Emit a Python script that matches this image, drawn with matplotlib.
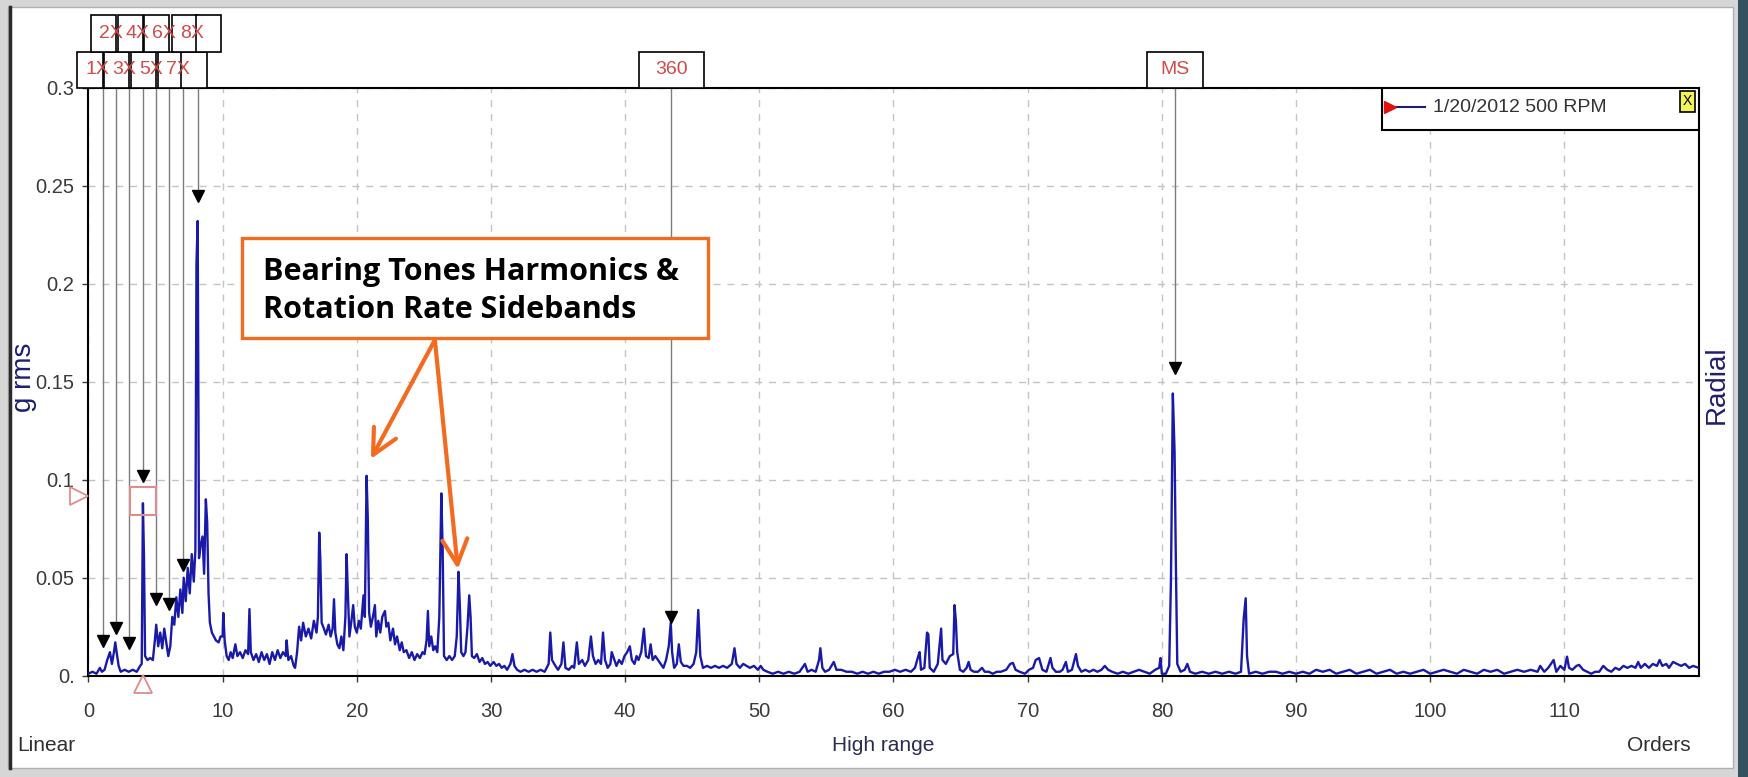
import matplotlib.pyplot as plt
import matplotlib.transforms as mtransforms
from matplotlib.patches import Rectangle
from matplotlib.lines import Line2D

plt.rcParams['font.family'] = ['Liberation Sans', 'DejaVu Sans']

# vibration spectrum, amplitude (g rms) against shaft orders
spec_orders = [
    0.0, 0.3, 0.6, 0.85, 1.0, 1.2, 1.4, 1.6, 1.75, 1.9, 2.0, 2.1, 2.25, 2.4, 2.7, 3.0, 3.3, 3.6, 3.85, 3.97,
    4.06, 4.14, 4.22, 4.4, 4.6, 4.8, 4.95, 5.05, 5.2, 5.35, 5.5, 5.65, 5.8, 5.95, 6.1, 6.25, 6.4, 6.55, 6.7, 6.85,
    7.0, 7.1, 7.25, 7.4, 7.55, 7.7, 7.85, 7.97, 8.05, 8.14, 8.24, 8.35, 8.5, 8.62, 8.75, 8.85, 8.95, 9.05, 9.2, 9.35,
    9.5, 9.7, 9.85, 10.0, 10.05, 10.15, 10.3, 10.45, 10.6, 10.75, 10.95, 11.1, 11.3, 11.5, 11.7, 11.9, 12.0, 12.1, 12.3, 12.5,
    12.7, 12.9, 13.1, 13.3, 13.5, 13.7, 13.9, 14.1, 14.3, 14.5, 14.7, 14.77, 14.9, 15.1, 15.3, 15.4, 15.55, 15.7, 15.85, 16.0,
    16.2, 16.4, 16.6, 16.8, 17.0, 17.1, 17.2, 17.28, 17.38, 17.55, 17.7, 17.9, 18.05, 18.2, 18.3, 18.4, 18.55, 18.7, 18.85, 19.0,
    19.15, 19.24, 19.32, 19.45, 19.6, 19.73, 19.85, 20.0, 20.15, 20.3, 20.5, 20.6, 20.73, 20.82, 20.92, 21.05, 21.2, 21.35, 21.45, 21.6,
    21.75, 21.9, 22.1, 22.2, 22.35, 22.5, 22.7, 22.85, 23.0, 23.2, 23.35, 23.5, 23.7, 23.9, 24.1, 24.3, 24.5, 24.7, 24.9, 25.05,
    25.2, 25.3, 25.4, 25.55, 25.7, 25.85, 26.0, 26.15, 26.3, 26.4, 26.5, 26.7, 26.9, 27.1, 27.3, 27.45, 27.58, 27.68, 27.78, 27.95,
    28.1, 28.25, 28.38, 28.48, 28.58, 28.75, 28.95, 29.15, 29.35, 29.55, 29.75, 29.95, 30.2, 30.4, 30.6, 30.8, 31.0, 31.2, 31.45, 31.6,
    31.75, 31.95, 32.2, 32.5, 32.8, 33.1, 33.4, 33.7, 34.0, 34.3, 34.42, 34.55, 34.8, 35.0, 35.25, 35.4, 35.55, 35.8, 36.05, 36.2,
    36.4, 36.55, 36.8, 37.0, 37.25, 37.45, 37.6, 37.8, 38.0, 38.2, 38.35, 38.5, 38.7, 38.9, 39.0, 39.15, 39.35, 39.55, 39.75, 39.95,
    40.15, 40.35, 40.5, 40.7, 40.85, 41.0, 41.2, 41.4, 41.55, 41.75, 41.9, 42.05, 42.25, 42.45, 42.65, 42.85, 43.05, 43.25, 43.4, 43.5,
    43.65, 43.85, 44.0, 44.15, 44.35, 44.6, 44.85, 45.1, 45.3, 45.45, 45.6, 45.8, 46.1, 46.4, 46.7, 47.0, 47.3, 47.6, 47.95, 48.15,
    48.3, 48.55, 48.8, 49.05, 49.3, 49.6, 49.9, 50.1, 50.3, 50.6, 51.0, 51.4, 51.8, 52.2, 52.6, 53.0, 53.4, 53.6, 53.9, 54.2,
    54.45, 54.55, 54.7, 54.9, 55.2, 55.55, 55.75, 56.1, 56.5, 56.9, 57.3, 57.7, 58.1, 58.5, 58.9, 59.3, 59.7, 60.1, 60.5, 60.9,
    61.3, 61.6, 61.85, 61.95, 62.05, 62.3, 62.5, 62.6, 62.7, 63.0, 63.3, 63.55, 63.65, 63.9, 64.2, 64.45, 64.55, 64.65, 64.75, 64.95,
    65.2, 65.45, 65.6, 65.75, 66.0, 66.3, 66.6, 66.8, 67.1, 67.4, 67.7, 68.0, 68.4, 68.7, 68.9, 69.1, 69.4, 69.8, 70.1, 70.4,
    70.6, 70.85, 71.1, 71.4, 71.7, 71.85, 72.1, 72.4, 72.6, 72.85, 73.0, 73.3, 73.6, 73.75, 74.0, 74.3, 74.6, 74.9, 75.2, 75.5,
    75.75, 76.0, 76.3, 76.7, 77.1, 77.5, 77.9, 78.3, 78.7, 79.1, 79.5, 79.8, 79.9, 80.0, 80.3, 80.55, 80.68, 80.82, 80.95, 81.05,
    81.15, 81.4, 81.7, 81.9, 82.1, 82.5, 83.0, 83.5, 84.0, 84.5, 85.0, 85.5, 85.9, 86.1, 86.25, 86.35, 86.5, 87.0, 87.5, 88.0,
    88.5, 89.0, 89.5, 90.0, 90.5, 91.0, 91.5, 92.0, 92.5, 93.0, 93.5, 94.0, 94.5, 95.0, 95.5, 96.0, 96.5, 97.0, 97.5, 98.0,
    98.5, 99.0, 99.5, 100.0, 100.5, 101.0, 101.5, 102.0, 102.5, 103.0, 103.5, 104.0, 104.5, 105.0, 105.5, 106.0, 106.5, 107.0, 107.5, 108.0,
    108.2, 108.5, 108.8, 109.2, 109.4, 109.7, 110.0, 110.2, 110.35, 110.6, 110.9, 111.1, 111.4, 111.7, 112.0, 112.3, 112.6, 112.9, 113.2, 113.5,
    113.8, 114.1, 114.4, 114.7, 115.0, 115.3, 115.5, 115.7, 116.0, 116.3, 116.6, 116.9, 117.1, 117.3, 117.6, 117.8, 118.1, 118.4, 118.7, 119.0,
    119.3, 119.6, 120.0,
]
spec_grms = [
    .001, .002, .001, .004, .002, .003, .008, .012, .006, .012, .017, .012, .005, .002, .003, .002, .003, .002, .005, .006,
    .088, .060, .010, .008, .009, .008, .018, .026, .015, .022, .014, .024, .017, .010, .015, .030, .026, .040, .030, .044,
    .032, .050, .038, .055, .042, .062, .048, .064, .210, .232, .060, .066, .071, .052, .090, .078, .042, .027, .022, .020,
    .018, .017, .020, .020, .032, .018, .010, .008, .012, .009, .016, .010, .012, .009, .013, .011, .034, .012, .008, .011,
    .007, .012, .008, .011, .006, .012, .008, .013, .009, .012, .010, .018, .008, .010, .005, .004, .012, .025, .018, .027,
    .020, .024, .019, .028, .022, .030, .073, .060, .027, .024, .021, .026, .020, .024, .039, .022, .016, .014, .020, .013,
    .030, .062, .045, .020, .028, .036, .025, .022, .028, .024, .041, .030, .102, .080, .032, .025, .030, .036, .020, .028,
    .022, .030, .033, .025, .027, .018, .024, .016, .020, .013, .017, .012, .013, .009, .012, .008, .011, .009, .012, .011,
    .018, .033, .015, .020, .013, .015, .012, .030, .093, .064, .010, .008, .010, .008, .010, .020, .053, .036, .012, .010,
    .012, .025, .041, .030, .010, .009, .011, .007, .009, .006, .007, .005, .007, .005, .006, .004, .005, .003, .006, .011,
    .005, .003, .002, .003, .002, .003, .002, .003, .002, .006, .022, .008, .005, .003, .006, .017, .004, .003, .005, .004,
    .017, .006, .008, .005, .008, .020, .010, .006, .008, .006, .022, .008, .004, .006, .012, .009, .005, .008, .006, .010,
    .012, .015, .008, .006, .010, .008, .012, .024, .010, .009, .016, .008, .010, .008, .006, .004, .008, .015, .027, .012,
    .004, .006, .016, .007, .005, .005, .004, .006, .012, .0335, .010, .004, .005, .004, .005, .004, .005, .004, .006, .014,
    .006, .004, .006, .005, .004, .005, .003, .005, .003, .002, .001, .002, .001, .002, .001, .002, .006, .002, .003, .002,
    .008, .014, .004, .002, .003, .007, .003, .003, .002, .002, .001, .002, .001, .002, .001, .002, .002, .003, .002, .003,
    .002, .004, .010, .012, .003, .004, .022, .021, .004, .002, .006, .024, .008, .006, .010, .011, .036, .028, .012, .003,
    .002, .004, .007, .003, .002, .002, .004, .002, .002, .001, .002, .002, .003, .006, .0065, .003, .002, .001, .003, .004,
    .008, .009, .003, .002, .009, .004, .002, .002, .003, .007, .002, .003, .011, .005, .002, .003, .002, .003, .002, .003,
    .005, .003, .002, .001, .002, .001, .002, .003, .002, .001, .003, .004, .009, .001, .001, .005, .049, .144, .114, .055,
    .006, .002, .003, .006, .002, .001, .002, .001, .002, .001, .002, .001, .002, .029, .0395, .010, .001, .002, .001, .002,
    .002, .001, .002, .001, .002, .001, .003, .002, .003, .001, .002, .003, .001, .002, .003, .001, .002, .003, .001, .002,
    .001, .002, .003, .001, .002, .003, .002, .001, .003, .002, .001, .003, .002, .003, .001, .002, .003, .002, .003, .002,
    .005, .002, .004, .008, .002, .005, .003, .0097, .004, .003, .005, .0055, .003, .002, .001, .002, .002, .005, .003, .002,
    .004, .003, .005, .004, .005, .004, .007, .004, .006, .004, .006, .005, .008, .005, .006, .004, .007, .006, .005, .006,
    .004, .005, .004,
]

# fault frequency cursors: label, order, marker height
odd_labels = ['1X', '3X', '5X', '7X']
odd_orders = [1.05, 3.03, 5.04, 7.05]
odd_marks = [0.0177, 0.0166, 0.039, 0.0564]
even_labels = ['2X', '4X', '6X', '8X']
even_orders = [2.05, 4.06, 6.02, 8.14]
even_marks = [0.0245, 0.102, 0.0365, 0.245]
tone_labels = ['360', 'MS']
tone_orders = [43.45, 81.0]
tone_marks = [0.030, 0.157]

x_ticks = [0, 10, 20, 30, 40, 50, 60, 70, 80, 90, 100, 110]
y_ticks = [0, 0.05, 0.1, 0.15, 0.2, 0.25, 0.3]
y_ticklabels = ['0.', '0.05', '0.1', '0.15', '0.2', '0.25', '0.3']

note_text = 'Bearing Tones Harmonics &\nRotation Rate Sidebands'
legend_text = '1/20/2012 500 RPM'

ORANGE = '#f26b21'
PINK = '#e08c8c'
NAVY = '#1e1e6e'

fig = plt.figure(figsize=(17.48, 7.77), dpi=100, facecolor='#d6d6d6')

# window panel behind the plot
fig.patches.append(Rectangle((0.0046, 0.0116), 0.9868, 0.9794, transform=fig.transFigure,
                             facecolor='white', edgecolor='#b0b0b0', lw=1, zorder=-3))
fig.patches.append(Rectangle((0.9943, 0.0), 0.0057, 1.0, transform=fig.transFigure,
                             facecolor='#35505e', edgecolor='none', zorder=-3))
fig.add_artist(Line2D([0.0055, 0.0055], [0.0116, 0.991], color='#2a2a2a', lw=2.5, zorder=-2))

ax = fig.add_axes([0.0506, 0.1304, 0.9211, 0.7567])
ax.set_xlim(0, 120)
ax.set_ylim(0, 0.3)
ax.set_xticks(x_ticks)
ax.set_yticks(y_ticks)
ax.set_yticklabels(y_ticklabels)
ax.tick_params(labelsize=14.5, colors='#3a3a3a', length=4, width=1)
ax.tick_params(axis='x', pad=15)
ax.tick_params(axis='y', pad=6)
for s in ax.spines.values():
    s.set_color('black')
    s.set_linewidth(1.5)
ax.set_axisbelow(True)
ax.grid(True, ls=(0, (5, 5)), color='#c4c4c4', lw=1)

ax.plot(spec_orders, spec_grms, color='#1a1aa8', lw=1.7, zorder=3)

# cursor lines and markers
all_orders = odd_orders + even_orders + tone_orders
all_marks = odd_marks + even_marks + tone_marks
ax.vlines(all_orders, all_marks, 0.3, colors='#7c7c7c', lw=1, zorder=4)
ax.plot(all_orders, all_marks, 'v', color='black', ms=9, zorder=5)

# label boxes above the plot
trans = mtransforms.blended_transform_factory(ax.transData, ax.transAxes)
rows = [(odd_labels, odd_orders, 1.0, 1.0607), (even_labels, even_orders, 1.0607, 1.1236)]
for labels, orders, y0, y1 in rows:
    centers = [o - 0.93 for o in orders] + [orders[-1] + 0.8]
    for c in centers:
        ax.add_patch(Rectangle((c - 0.95, y0), 1.9, y1 - y0, transform=trans, clip_on=False,
                               facecolor='white', edgecolor='black', lw=1.2, zorder=6))
    for lab, o in zip(labels, orders):
        ax.text(o - 0.4, (y0 + y1) / 2, lab, transform=trans, ha='center', va='center',
                fontsize=14, color='#d24a4a', zorder=7, clip_on=False)

for lab, o in zip(tone_labels, tone_orders):
    w = 4.9 if len(lab) == 3 else 4.2
    ax.add_patch(Rectangle((o - w / 2, 1.0), w, 0.0607, transform=trans, clip_on=False,
                           facecolor='white', edgecolor='black', lw=1.2, zorder=6))
    ax.text(o, 1.0303, lab, transform=trans, ha='center', va='center',
            fontsize=14, color='#d24a4a', zorder=7, clip_on=False)

# active cursor on the 4X peak
ax.add_patch(Rectangle((3.12, 0.0821), 1.9, 0.0143, facecolor='none', edgecolor=PINK, lw=1.5, zorder=6))
ax.plot([-0.006], [0.0915], marker='>', ms=13, mfc='none', mec=PINK, mew=1.3,
        transform=mtransforms.blended_transform_factory(ax.transAxes, ax.transData), clip_on=False, zorder=6)
ax.plot([4.06], [-0.0042], marker='^', ms=13, mfc='none', mec=PINK, mew=1.3, clip_on=False, zorder=6)

# legend box
ax.add_patch(Rectangle((0.8034, 0.928), 0.1966, 0.072, transform=ax.transAxes, facecolor='white',
                       edgecolor='black', lw=1.5, zorder=8))
ax.add_line(Line2D([0.8115, 0.830], [0.967, 0.967], transform=ax.transAxes, color=NAVY, lw=1.5, zorder=9))
ax.plot([0.8084], [0.967], marker='>', color='#e01010', ms=9, transform=ax.transAxes, zorder=9)
ax.text(0.835, 0.967, legend_text, transform=ax.transAxes, ha='left', va='center',
        fontsize=14, color='#333333', zorder=9)
ax.add_patch(Rectangle((0.9885, 0.9592), 0.0093, 0.0353, transform=ax.transAxes, facecolor='#f2f25a',
                       edgecolor='black', lw=1.2, zorder=9))
ax.text(0.99315, 0.9768, 'X', transform=ax.transAxes, ha='center', va='center', fontsize=10, zorder=10)

# callout
ax.add_patch(Rectangle((11.44, 0.1723), 34.72, 0.051, facecolor='white', edgecolor=ORANGE, lw=2.4, zorder=10))
lines = note_text.split('\n')
for txt, yb in zip(lines, [0.2019, 0.1825]):
    ax.text(13.0, yb, txt, fontsize=22, fontweight='bold', family='Open Sans', va='baseline', ha='left',
            color='black', zorder=11)
for tip in [(21.05, 0.1106), (27.53, 0.0544)]:
    ax.annotate('', xy=tip, xytext=(25.82, 0.1713),
                arrowprops=dict(arrowstyle='->,head_length=0.9,head_width=0.45', color=ORANGE,
                                lw=3, mutation_scale=20, shrinkA=0, shrinkB=0), zorder=11)

# axis captions
fig.text(0.0135, 0.515, 'g rms', rotation=90, ha='center', va='center', fontsize=20, color=NAVY)
fig.text(0.982, 0.505, 'Radial', rotation=90, ha='center', va='center', fontsize=20, color=NAVY)
fig.text(0.0097, 0.041, 'Linear', ha='left', va='center', fontsize=15, color='#303030')
fig.text(0.505, 0.041, 'High range', ha='center', va='center', fontsize=15, color='#2c2c50')
fig.text(0.9674, 0.041, 'Orders', ha='right', va='center', fontsize=15, color='#303030')

fig.savefig('out.png', dpi=100, facecolor=fig.get_facecolor())
